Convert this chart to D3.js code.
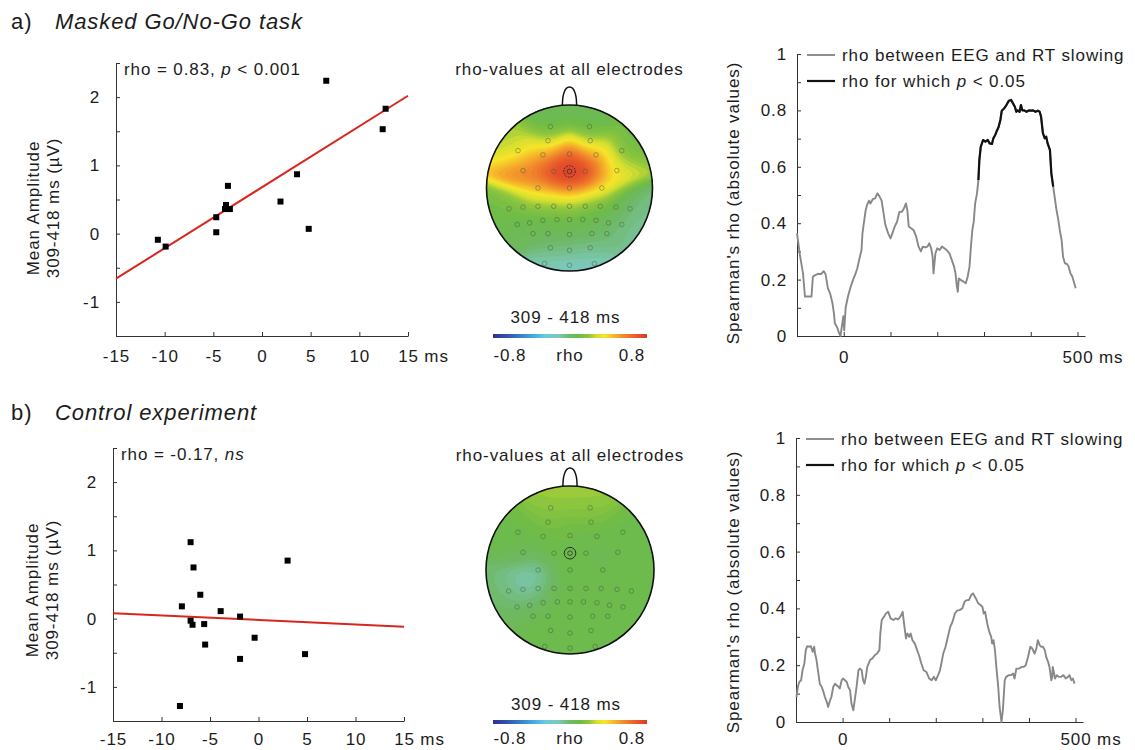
<!DOCTYPE html>
<html><head><meta charset="utf-8">
<script src="https://cdn.jsdelivr.net/npm/d3@7"></script>
<style>
body{margin:0;background:#fff;}
svg text{font-family:"Liberation Sans",Arial,Helvetica,sans-serif;fill:#1c1c1c;letter-spacing:0.9px;}
</style></head><body>
<svg id="chart" width="1135" height="750" xmlns="http://www.w3.org/2000/svg"></svg>
<script>
// ================= DATA =================
// Scatter a) Masked Go/No-Go task
const scatterA_x = [-10.7,-9.9,-4.7,-4.7,-3.7,-3.5,-3.8,-3.3,1.9,3.6,4.8,6.6,12.7,12.4];
const scatterA_y = [-0.09,-0.19,0.24,0.02,0.42,0.70,0.36,0.36,0.47,0.87,0.07,2.24,1.83,1.53];
const fitA_x = [-15,15];
const fitA_y = [-0.66,2.02];
// Scatter b) Control experiment
const scatterB_x = [-7.0,-6.7,-6.0,-7.9,-7.0,-6.8,-5.6,-5.5,-3.9,-1.9,-1.9,-0.4,3.0,4.8,-8.1];
const scatterB_y = [1.12,0.75,0.35,0.18,-0.03,-0.09,-0.08,-0.38,0.11,0.03,-0.59,-0.28,0.85,-0.52,-1.28];
const fitB_x = [-15,15];
const fitB_y = [0.08,-0.12];

const scatterXTicks = [-15,-10,-5,0,5,10,15];
const scatterYTicks = [-1.5,-1,-0.5,0,0.5,1,1.5,2,2.5];
const scatterYLabels = [-1,0,1,2];

// Time courses of |rho|
const lineA_t = [-100,-98,-94,-91,-87,-83,-73,-69,-66,-62,-55,-48,-43,-39,-34,-29,-24,-21,-19,-14,-10,-7,-4,-1,1,4,9,14,20,25,29,33,38,40,43,47,50,54,57,62,67,72,76,81,84,89,95,100,104,109,114,119,124,129,133,136,139,144,149,155,160,165,169,174,179,183,187,190,192,196,200,205,210,215,220,226,231,236,239,242,244,246,250,256,261,265,269,272,275,278,281,285,288,290,293,298,303,308,312,317,320,324,328,331,335,338,343,348,353,358,362,366,369,372,376,379,382,386,391,396,401,405,410,415,419,422,426,430,433,436,441,444,448,451,455,459,462,466,469,473,478,481,485,489,492,496];
const lineA_rho = [0.364,0.34,0.29,0.26,0.22,0.14,0.14,0.14,0.21,0.215,0.22,0.22,0.23,0.22,0.17,0.15,0.115,0.08,0.045,0.03,0.01,0.0,0.035,0.07,0.02,0.10,0.14,0.17,0.20,0.22,0.24,0.27,0.305,0.364,0.40,0.447,0.465,0.48,0.47,0.485,0.488,0.506,0.496,0.48,0.447,0.394,0.364,0.346,0.364,0.388,0.405,0.44,0.44,0.453,0.47,0.447,0.388,0.382,0.376,0.352,0.317,0.30,0.317,0.314,0.317,0.329,0.311,0.281,0.222,0.293,0.311,0.305,0.317,0.311,0.305,0.293,0.27,0.246,0.222,0.175,0.157,0.204,0.199,0.193,0.187,0.21,0.246,0.317,0.376,0.405,0.47,0.506,0.553,0.624,0.671,0.695,0.689,0.695,0.683,0.681,0.701,0.713,0.730,0.740,0.766,0.799,0.807,0.819,0.834,0.837,0.825,0.813,0.795,0.80,0.795,0.819,0.80,0.80,0.795,0.80,0.799,0.80,0.795,0.799,0.795,0.778,0.719,0.701,0.707,0.683,0.66,0.577,0.53,0.494,0.447,0.411,0.376,0.34,0.281,0.258,0.255,0.246,0.222,0.21,0.193,0.169];
const sigA = [288,448];   // window where p < 0.05

const lineB_t = [-99,-96,-93,-89,-86,-82,-79,-76,-71,-68,-64,-61,-59,-56,-52,-49,-45,-41,-38,-34,-31,-27,-24,-20,-16,-13,-9,-6,-2,1,5,9,12,16,19,23,26,30,34,37,41,44,47,50,53,59,64,69,74,79,81,84,89,93,98,103,109,114,119,124,129,131,136,139,143,146,150,155,160,164,169,174,180,186,191,196,200,205,209,212,216,221,226,231,236,241,246,251,257,262,266,271,276,280,286,291,296,300,303,306,309,312,316,319,321,324,327,330,334,337,341,344,348,351,357,362,366,369,373,379,384,389,393,398,403,407,412,416,419,423,426,430,434,437,441,444,448,450,451,454,456,460,464,469,474,479,484,487,491,494,498];
const lineB_rho = [0.088,0.124,0.141,0.147,0.182,0.206,0.253,0.267,0.265,0.267,0.247,0.265,0.241,0.218,0.171,0.135,0.124,0.106,0.088,0.071,0.053,0.076,0.088,0.124,0.135,0.129,0.124,0.118,0.147,0.153,0.147,0.141,0.124,0.112,0.065,0.041,0.076,0.124,0.182,0.188,0.182,0.147,0.135,0.159,0.194,0.218,0.224,0.235,0.241,0.253,0.312,0.359,0.371,0.382,0.388,0.365,0.359,0.365,0.361,0.371,0.388,0.359,0.294,0.312,0.30,0.312,0.288,0.276,0.253,0.235,0.206,0.182,0.176,0.153,0.147,0.159,0.147,0.165,0.182,0.206,0.241,0.265,0.30,0.335,0.353,0.382,0.392,0.394,0.40,0.424,0.429,0.429,0.447,0.453,0.435,0.418,0.412,0.406,0.382,0.388,0.359,0.335,0.312,0.30,0.276,0.288,0.253,0.194,0.124,0.053,0.0,0.041,0.147,0.159,0.165,0.165,0.171,0.153,0.188,0.188,0.194,0.194,0.20,0.229,0.265,0.259,0.241,0.259,0.288,0.271,0.265,0.265,0.253,0.229,0.212,0.194,0.147,0.159,0.194,0.171,0.153,0.165,0.159,0.159,0.165,0.153,0.159,0.165,0.147,0.153,0.135];
const sigB = null;        // no significant window

const lineXTicks = [0,100,200,300,400,500];
const lineXLabels = [0,500];
const lineYTicks = [0,0.1,0.2,0.3,0.4,0.5,0.6,0.7,0.8,0.9,1];
const lineYLabels = [0,0.2,0.4,0.6,0.8,1];

// Electrode layout (normalised head coordinates) and rho per electrode
const elecX = [-0.23,0.24,-0.26,0.25,-0.62,-0.32,0,0.32,0.63,-0.56,-0.19,0,0.19,0.57,-0.38,0,0.39,-0.73,-0.56,-0.38,-0.19,0,0.19,0.37,0.56,0.73,-0.63,-0.48,-0.32,-0.15,0,0.16,0.32,0.47,0.63,-0.44,-0.26,0,0.27,0.45,-0.23,0,0.25,-0.30,0,0.30];
const elecY = [-0.74,-0.74,-0.57,-0.57,-0.45,-0.40,-0.41,-0.40,-0.45,-0.21,-0.20,-0.20,-0.20,-0.21,0,0,0,0.25,0.23,0.22,0.22,0.22,0.22,0.22,0.23,0.25,0.44,0.42,0.39,0.38,0.38,0.38,0.39,0.42,0.44,0.55,0.55,0.56,0.55,0.55,0.72,0.75,0.72,0.91,0.93,0.91];
const rhoTopoA = [0.04,0.04,0.16,0.14,0.22,0.56,0.66,0.56,0.1,0.64,0.8,0.9,0.82,0.34,0.55,0.66,0.45,0.12,0.2,0.24,0.26,0.26,0.24,0.2,0.08,-0.06,0.04,0.05,0.06,0.07,0.07,0.06,0.04,0.0,-0.1,0.03,0.03,0.03,0.01,-0.04,-0.03,-0.03,-0.07,-0.16,-0.2,-0.16];
const rhoTopoB = [0.22,0.22,0.13,0.13,0.1,0.1,0.1,0.06,0.1,0.05,0.1,0.1,0.06,0.08,-0.1,0.1,0.06,0.0,-0.18,-0.15,0.03,0.1,0.1,0.1,0.1,0.1,0.04,-0.02,0.04,0.1,0.1,0.1,0.1,0.1,0.1,0.1,0.1,0.1,0.1,0.1,0.1,0.1,0.1,0.1,0.1,0.1];
const highlightElectrode = 11;

// Colour map (rho -> colour)
const cmapStops = [-0.8,-0.6,-0.4,-0.25,-0.12,0.0,0.1,0.2,0.28,0.36,0.46,0.56,0.66,0.8];
const cmapColors = ["#2d3091","#3563b8","#3fa6e0","#6ccbe0","#7cc8b6","#6fb867","#6cbb48","#90c63c","#d8df30","#f6e52a","#f6b52a","#f08a2c","#eb642a","#dc3a28"];

// ================= DRAWING =================
const svg = d3.select('#chart');
const color = d3.scaleLinear().domain(cmapStops).range(cmapColors).clamp(true);
const AX = '#333';

function styleAxis(g){
  g.selectAll('.domain').attr('stroke',AX).attr('stroke-width',1);
  g.selectAll('.tick line').attr('stroke',AX).attr('stroke-width',1);
  g.selectAll('.tick text').attr('font-size',17).attr('fill','#1c1c1c')
   .style('font-family','"Liberation Sans",Arial,Helvetica,sans-serif');
}

function addUnit(g, axisG, xScale, value, unit){
  const t = axisG.selectAll('.tick').filter(d=>d===value).select('text');
  const w = t.node().getComputedTextLength();
  g.append('text').attr('x', xScale(value) + w/2 + 6)
    .attr('transform', axisG.attr('transform')).attr('y', +t.attr('y')).attr('dy', t.attr('dy'))
    .attr('font-size',17).text(unit);
}

function drawScatter(c, xs, ys, fx, fy, label){
  const g = svg.append('g');
  const x = d3.scaleLinear().domain([-15,15]).range([c.x0,c.x1]);
  const y = d3.scaleLinear().domain([-1.5,2.5]).range([c.y0,c.y1]);
  const gy = g.append('g').attr('transform',`translate(${c.x0},0)`)
    .call(d3.axisLeft(y).tickValues(scatterYTicks).tickSizeInner(-4).tickSizeOuter(0).tickPadding(16)
      .tickFormat(d=>scatterYLabels.includes(d)?String(d):''));
  const gx = g.append('g').attr('transform',`translate(0,${c.y0})`)
    .call(d3.axisBottom(x).tickValues(scatterXTicks).tickSizeInner(-4).tickSizeOuter(0).tickPadding(c.padX)
      .tickFormat(d=>String(d)));
  styleAxis(gy); styleAxis(gx);
  gx.selectAll('.tick').filter(d=>d===-15).select('line').remove();
  addUnit(g, gx, x, 15, 'ms');
  g.append('line').attr('x1',x(fx[0])).attr('y1',y(fy[0])).attr('x2',x(fx[1])).attr('y2',y(fy[1]))
    .attr('stroke','#d8261f').attr('stroke-width',2);
  const pts = xs.map((v,i)=>[v,ys[i]]);
  g.selectAll('rect.pt').data(pts).join('rect').attr('class','pt')
    .attr('x',d=>x(d[0])-3).attr('y',d=>y(d[1])-3).attr('width',6).attr('height',6).attr('fill','#000');
  const yl = g.append('text').attr('transform',`translate(${c.labX},${c.labY}) rotate(-90)`)
    .attr('text-anchor','middle').attr('font-size',17);
  yl.append('tspan').attr('x',0).attr('y',0).text('Mean Amplitude');
  yl.append('tspan').attr('x',0).attr('y',20).text('309-418 ms (µV)');
  const st = g.append('text').attr('x',c.x0+8).attr('y',c.y1+12).attr('font-size',17);
  label.forEach(p=>st.append('tspan').attr('font-style',p[1]?'italic':'normal').text(p[0]));
}

function drawTopo(c, rho){
  const g = svg.append('g');
  const n = 130, ext = 1.05, step = 2*ext/n, sig = 0.16;
  const vals = new Array(n*n);
  for(let j=0;j<n;j++){
    const py = -ext + (j+0.5)*step;
    for(let i=0;i<n;i++){
      const px = -ext + (i+0.5)*step;
      let sw=0, sv=0;
      for(let k=0;k<elecX.length;k++){
        const dx=px-elecX[k], dy=py-elecY[k];
        const w=Math.exp(-(dx*dx+dy*dy)/(2*sig*sig));
        sw+=w; sv+=w*rho[k];
      }
      vals[j*n+i] = sv/sw;
    }
  }
  const thr = d3.range(-32,33).map(k=>k*0.025);
  const contours = d3.contours().size([n,n]).thresholds(thr)(vals);
  const proj = d3.geoIdentity().scale(step*c.r).translate([c.cx-ext*c.r, c.cy-ext*c.r]);
  const path = d3.geoPath(proj);
  const cid = 'clip'+c.id;
  svg.append('clipPath').attr('id',cid).append('circle').attr('cx',c.cx).attr('cy',c.cy).attr('r',c.r);
  g.append('text').attr('x',c.cx).attr('y',c.titleY).attr('text-anchor','middle').attr('font-size',17)
    .text('rho-values at all electrodes');
  const ty = c.cy - c.r;
  g.append('path').attr('d',`M${c.cx-7},${ty+2} C${c.cx-7.5},${ty-9} ${c.cx-5},${ty-18} ${c.cx},${ty-18} C${c.cx+5},${ty-18} ${c.cx+7.5},${ty-9} ${c.cx+7},${ty+2}`)
    .attr('fill','none').attr('stroke','#111').attr('stroke-width',1.5);
  const mg = g.append('g').attr('clip-path',`url(#${cid})`);
  mg.selectAll('path').data(contours).join('path').attr('d',path)
    .attr('fill',d=>color(d.value+0.0125)).attr('stroke','none');
  g.append('circle').attr('cx',c.cx).attr('cy',c.cy).attr('r',c.r).attr('fill','none')
    .attr('stroke','#111').attr('stroke-width',1.6);
  g.selectAll('circle.el').data(elecX.map((v,i)=>i)).join('circle').attr('class','el')
    .attr('cx',i=>c.cx+elecX[i]*c.r).attr('cy',i=>c.cy+elecY[i]*c.r).attr('r',2.3)
    .attr('fill','none').attr('stroke',i=>i===highlightElectrode?'#333':'rgba(70,80,60,0.55)').attr('stroke-width',0.8);
  g.append('circle').attr('cx',c.cx+elecX[highlightElectrode]*c.r).attr('cy',c.cy+elecY[highlightElectrode]*c.r)
    .attr('r',5.8).attr('fill','none').attr('stroke','#222').attr('stroke-width',0.9)
    .attr('stroke-dasharray',c.dashed?'1.6,1.3':null);
  g.append('text').attr('x',c.cx-4).attr('y',c.cbTextY).attr('text-anchor','middle').attr('font-size',17).text('309 - 418 ms');
  const gid = 'grad'+c.id;
  const lg = svg.append('defs').append('linearGradient').attr('id',gid);
  cmapStops.forEach((s,i)=>lg.append('stop').attr('offset',((s+0.8)/1.6*100)+'%').attr('stop-color',cmapColors[i]));
  const cb = d3.scaleLinear().domain([-0.8,0.8]).range([c.cbX0,c.cbX1]);
  g.append('rect').attr('x',cb(-0.8)).attr('y',c.cbY).attr('width',cb(0.8)-cb(-0.8)).attr('height',4).attr('fill',`url(#${gid})`);
  [[-0.8,'-0.8'],[0,'rho'],[0.8,'0.8']].forEach(([v,s])=>{
    g.append('text').attr('x',cb(v)+(v===0?0:(v<0?17:-15))).attr('y',c.cbLabY).attr('text-anchor','middle').attr('font-size',17).text(s);
  });
}

function drawLine(c, ts, vs, sigWin){
  const g = svg.append('g');
  const x = d3.scaleLinear().domain([-100,516]).range([c.x0,c.x1]);
  const y = d3.scaleLinear().domain([0,1]).range([c.y0,c.y1]);
  const gy = g.append('g').attr('transform',`translate(${c.x0},0)`)
    .call(d3.axisLeft(y).tickValues(lineYTicks).tickSizeInner(-4).tickSizeOuter(0).tickPadding(10)
      .tickFormat(d=>lineYLabels.some(v=>Math.abs(v-d)<1e-9)?String(+d.toFixed(1)):''));
  const gx = g.append('g').attr('transform',`translate(0,${c.y0})`)
    .call(d3.axisBottom(x).tickValues(lineXTicks).tickSizeInner(-4).tickSizeOuter(0).tickPadding(c.padX)
      .tickFormat(d=>lineXLabels.includes(d)?String(d):''));
  styleAxis(gy); styleAxis(gx);
  addUnit(g, gx, x, 500, 'ms');
  const pts = ts.map((t,i)=>[t,vs[i]]);
  const ln = d3.line().x(d=>x(d[0])).y(d=>y(d[1]));
  g.append('path').attr('d',ln(pts)).attr('fill','none').attr('stroke','#888').attr('stroke-width',1.9).attr('stroke-linejoin','round');
  if(sigWin){
    const sp = pts.filter(d=>d[0]>=sigWin[0] && d[0]<=sigWin[1]);
    g.append('path').attr('d',ln(sp)).attr('fill','none').attr('stroke','#111').attr('stroke-width',2.2).attr('stroke-linejoin','round');
  }
  g.append('text').attr('transform',`translate(${c.labX},${c.labY}) rotate(-90)`).attr('text-anchor','middle')
    .attr('font-size',17).text("Spearman's rho (absolute values)");
  const lx = c.x0+10;
  g.append('line').attr('x1',lx).attr('x2',lx+28).attr('y1',c.y1+1).attr('y2',c.y1+1).attr('stroke','#888').attr('stroke-width',1.9);
  g.append('text').attr('x',lx+35).attr('y',c.y1+7).attr('font-size',17).text('rho between EEG and RT slowing');
  g.append('line').attr('x1',lx).attr('x2',lx+28).attr('y1',c.y1+27).attr('y2',c.y1+27).attr('stroke','#111').attr('stroke-width',2.2);
  const t2 = g.append('text').attr('x',lx+35).attr('y',c.y1+33).attr('font-size',17);
  t2.append('tspan').text('rho for which ');
  t2.append('tspan').attr('font-style','italic').text('p');
  t2.append('tspan').text(' < 0.05');
}

function drawTitle(y, letter, txt){
  svg.append('text').attr('x',11).attr('y',y).attr('font-size',22).text(letter);
  svg.append('text').attr('x',55).attr('y',y).attr('font-size',22).attr('font-style','italic').text(txt);
}

// ---- panel a ----
drawTitle(29,'a)','Masked Go/No-Go task');
drawScatter({x0:116,x1:408,y0:336,y1:63,padX:14,labX:39,labY:208}, scatterA_x, scatterA_y, fitA_x, fitA_y,
  [['rho = 0.83, ',false],['p',true],[' < 0.001',false]]);
drawTopo({id:'a',cx:569.5,cy:188,r:83,titleY:75,cbTextY:323,cbX0:493,cbX1:647,cbY:334,cbLabY:361,dashed:true}, rhoTopoA);
drawLine({x0:797,x1:1085,y0:336,y1:54,labX:739,labY:203,padX:15}, lineA_t, lineA_rho, sigA);

// ---- panel b ----
drawTitle(420,'b)','Control experiment');
drawScatter({x0:113,x1:404,y0:721,y1:448,padX:12,labX:38,labY:590}, scatterB_x, scatterB_y, fitB_x, fitB_y,
  [['rho = -0.17, ',false],['ns',true]]);
drawTopo({id:'b',cx:570,cy:570,r:84,titleY:461,cbTextY:710,cbX0:493,cbX1:647,cbY:720,cbLabY:744,dashed:false}, rhoTopoB);
drawLine({x0:796,x1:1083,y0:722,y1:438,labX:739,labY:592,padX:11}, lineB_t, lineB_rho, sigB);
</script>
</body></html>
